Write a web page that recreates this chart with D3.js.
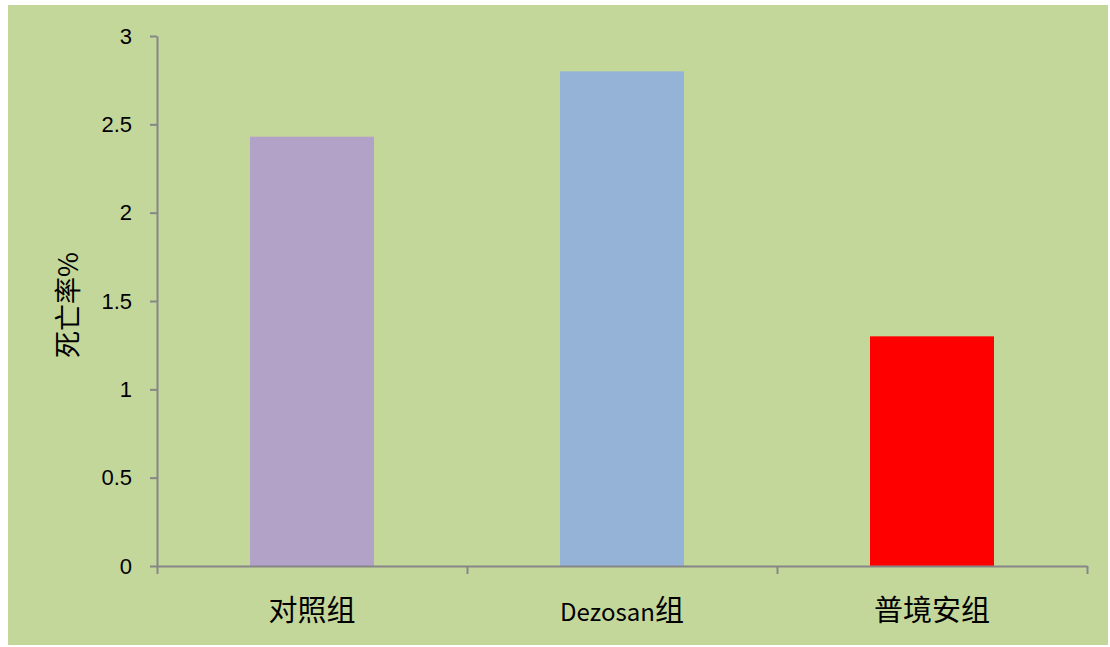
<!DOCTYPE html>
<html>
<head>
<meta charset="utf-8">
<script src="https://cdn.jsdelivr.net/npm/d3@7"></script>
<style>
    body { margin: 0; background: #fff; }
    .axis path, .axis line { stroke: #868686; stroke-width: 2; }
    .axis text { fill: #000; font-family: "Liberation Sans", "Noto Sans CJK SC", sans-serif; }
    .title { fill: #000; font-family: "Noto Sans CJK SC", sans-serif; font-size: 27px; }
</style>
</head>
<body>
<div id="bar"></div>
<script>
const categories = ["对照组", "Dezosan组", "普境安组"]
const values = [2.43, 2.8, 1.3]
const colors = ["#b3a2c7", "#95b3d7", "#ff0000"]
const yTicks = [0, 0.5, 1, 1.5, 2, 2.5, 3]

drawBarChart()
function drawBarChart() {
    const W = 1110, H = 647
    const margin = { top: 36, left: 157, right: 23, bottom: 81 }
    const width = W - margin.left - margin.right,
        height = H - margin.top - margin.bottom

    const svg = d3.select("#bar").append("svg")
        .attr("width", W)
        .attr("height", H)
        .attr("id", "svg-bar")

    // chart background
    svg.append("rect")
        .attr("x", 8).attr("y", 5)
        .attr("width", 1100).attr("height", 640)
        .attr("fill", "#c4d79b")

    const chart = svg.append("g")
        .attr("transform", `translate(${margin.left},${margin.top})`)

    const yScale = d3.scaleLinear()
        .range([height, 0])
        .domain([0, 3])

    const xScale = d3.scaleBand()
        .range([0, width])
        .domain(categories)
        .paddingInner(0.6)
        .paddingOuter(0.3)

    // bars
    chart.selectAll(".bar")
        .data(values)
        .enter().append("rect")
        .attr("class", "bar")
        .attr("x", (d, i) => xScale(categories[i]))
        .attr("y", (d) => yScale(d))
        .attr("width", xScale.bandwidth())
        .attr("height", (d) => height - yScale(d))
        .style("fill", (d, i) => colors[i])

    // y axis
    const yAxis = chart.append("g")
        .attr("class", "axis")
        .call(d3.axisLeft(yScale).tickValues(yTicks).tickSize(7).tickSizeOuter(0).tickPadding(18).tickFormat(d3.format("")))
    yAxis.selectAll("text").style("font-size", "22px")

    // x axis: boundary ticks
    const xTickScale = d3.scaleLinear().domain([0, categories.length]).range([0, width])
    chart.append("g")
        .attr("class", "axis")
        .attr("transform", `translate(0,${height})`)
        .call(d3.axisBottom(xTickScale).ticks(categories.length).tickSize(8).tickSizeOuter(0).tickFormat(""))

    // x labels (latin part a bit smaller, like the original)
    const labels = chart.append("g")
        .selectAll("text")
        .data(categories)
        .enter().append("text")
        .attr("class", "title")
        .attr("x", (d) => xScale(d) + xScale.bandwidth() / 2)
        .attr("y", height + 55)
        .attr("text-anchor", "middle")
    labels.each(function (d) {
        const parts = d.match(/[A-Za-z]+|[^A-Za-z]+/g)
        d3.select(this).selectAll("tspan")
            .data(parts)
            .enter().append("tspan")
            .style("font-size", (p) => /[A-Za-z]/.test(p) ? "24px" : "29px")
            .text((p) => p)
    })

    // y axis title
    svg.append("text")
        .attr("class", "title")
        .attr("transform", `translate(78,${margin.top + height / 2 + 4}) rotate(-90)`)
        .attr("text-anchor", "middle")
        .text("死亡率%")
}
</script>
</body>
</html>
